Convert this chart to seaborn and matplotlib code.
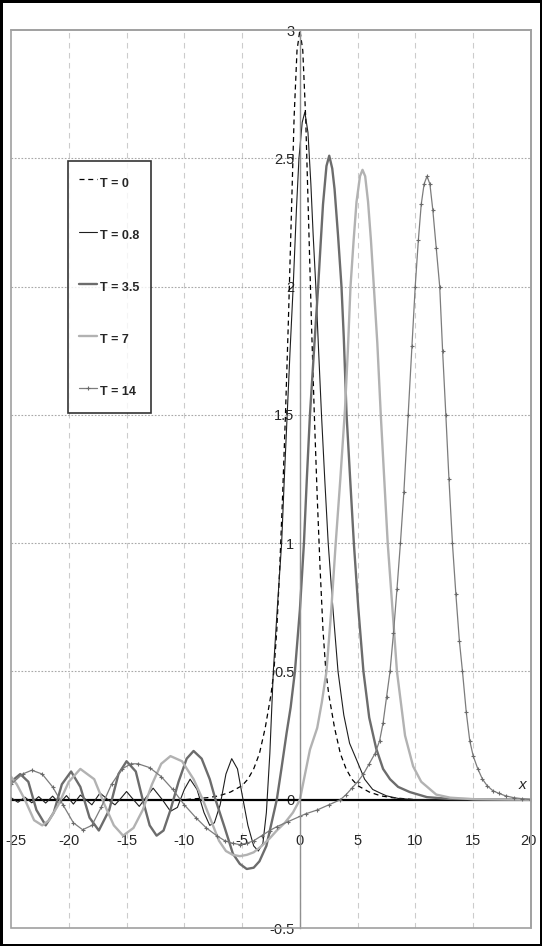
import numpy as np
import pandas as pd
import seaborn as sns
import matplotlib.pyplot as plt
from matplotlib.patches import Rectangle
from matplotlib.transforms import ScaledTranslation

sns.set_style("white")
plt.rcParams['font.family'] = ['Liberation Sans', 'DejaVu Sans']

# T = 0 (dashed)
x_t0 = [-25, -10, -9, -8, -7, -6, -5, -4.5, -4, -3.5, -3, -2.5, -2.25, -2, -1.75, -1.5, -1.25,
        -1, -0.75, -0.5, -0.25, 0, 0.25, 0.5, 0.75, 1, 1.25, 1.5, 1.75, 2, 2.25, 2.5, 3, 3.5,
        4, 4.5, 5, 6, 7, 8, 9, 10, 20]
y_t0 = [0, 0, 0.004, 0.008, 0.015, 0.03, 0.055, 0.08, 0.12, 0.18, 0.28, 0.41, 0.5, 0.66, 0.9, 1.18, 1.5,
        1.86, 2.26, 2.66, 2.92, 3.0, 2.92, 2.66, 2.26, 1.86, 1.5, 1.18, 0.9, 0.66, 0.5, 0.41, 0.28, 0.18,
        0.12, 0.08, 0.055, 0.03, 0.015, 0.008, 0.004, 0, 0]

# T = 0.8 (thin solid)
x_t08 = [-25, -24.4, -23.8, -23.2, -22.6, -22.0, -21.4, -20.8, -20.2, -19.6, -19.0, -18.5, -18.0,
         -17.7, -17.3, -16.6, -16.0, -15.5, -15.0, -14.4, -13.9, -13.3, -12.7, -11.9, -11.2, -10.6,
         -10.0, -9.5, -8.9, -8.3, -7.8, -7.4, -6.9, -6.4, -5.9, -5.4, -5.0, -4.5, -4.0, -3.6, -3.2,
         -2.9, -2.6, -2.3, -1.95, -1.58, -1.35, -1.1, -0.85, -0.58, -0.3, -0.08, 0.2, 0.43, 0.7,
         0.95, 1.15, 1.38, 1.62, 1.87, 2.15, 2.45, 2.85, 3.3, 3.8, 4.3, 4.9, 5.6, 6.3, 7.0, 7.5,
         8.5, 10, 20]
y_t08 = [0.008, -0.01, 0.01, -0.012, 0.012, -0.013, 0.014, -0.015, 0.016, -0.017, 0.018, 0.0, -0.02,
         0.0, 0.026, 0.0, -0.02, 0.005, 0.032, 0.0, -0.026, 0.01, 0.045, 0.0, -0.045, -0.03,
         0.04, 0.08, 0.04, -0.05, -0.1, -0.09, -0.02, 0.1, 0.16, 0.12, 0.02, -0.1, -0.18, -0.2, -0.17,
         -0.05, 0.18, 0.5, 0.75, 1.0, 1.25, 1.5, 1.75, 2.0, 2.3, 2.5, 2.64, 2.68, 2.6,
         2.4, 2.2, 2.0, 1.75, 1.5, 1.25, 1.0, 0.75, 0.5, 0.33, 0.22, 0.156, 0.08, 0.04, 0.025, 0.015,
         0.005, 0, 0]

# T = 3.5 (thick dark grey)
x_t35 = [-25, -24.2, -23.5, -22.8, -22.0, -21.3, -20.6, -19.8, -19.0, -18.2, -17.4, -16.5, -15.7,
         -15.0, -14.2, -13.6, -13.0, -12.4, -11.8, -11.2, -10.5, -9.8, -9.2, -8.5, -7.8, -7.3,
         -6.5, -5.8, -5.2, -4.6, -4.0, -3.5, -2.9, -2.5, -2.0, -1.6, -1.15, -0.8, -0.43, 0.0, 0.35,
         0.6, 0.87, 1.22, 1.58, 1.8, 2.0, 2.3, 2.54, 2.8, 3.0, 3.3, 3.6, 3.8, 4.04, 4.35, 4.67,
         5.05, 5.5, 6.0, 6.6, 7.2, 7.8, 8.5, 9.5, 11, 13, 20]
y_t35 = [0.07, 0.1, 0.07, -0.04, -0.1, -0.05, 0.06, 0.11, 0.05, -0.07, -0.12, -0.04, 0.1,
         0.15, 0.11, 0.0, -0.1, -0.14, -0.12, -0.04, 0.07, 0.16, 0.19, 0.16, 0.08, 0.0,
         -0.11, -0.21, -0.25, -0.27, -0.265, -0.24, -0.18, -0.1, 0.0, 0.12, 0.26, 0.36, 0.5, 0.74, 1.0,
         1.25, 1.5, 1.75, 2.0, 2.17, 2.32, 2.47, 2.51, 2.46, 2.38, 2.2, 2.0, 1.8, 1.5, 1.25, 1.0,
         0.75, 0.5, 0.32, 0.2, 0.12, 0.08, 0.05, 0.03, 0.01, 0.003, 0]

# T = 7 (thick light grey)
x_t7 = [-25, -24.5, -23.8, -23.0, -22.3, -21.7, -20.9, -20.0, -19.0, -17.8, -16.9, -16.1, -15.3,
        -14.4, -13.6, -12.8, -12.0, -11.2, -10.2, -9.2, -8.4, -7.7, -7.0, -6.4, -5.8, -5.2, -4.6,
        -4.0, -3.3, -2.6, -2.0, -1.3, -0.6, 0, 0.4, 0.87, 1.5, 1.9, 2.3, 2.7, 3.1, 3.5, 3.9, 4.15,
        4.38, 4.65, 4.9, 5.2, 5.42, 5.65, 5.9, 6.15, 6.4, 6.7, 7.0, 7.3, 7.6, 8.0, 8.4, 9.1, 9.8,
        10.5, 11.8, 13, 15, 20]
y_t7 = [0.09, 0.06, 0.0, -0.08, -0.1, -0.08, -0.02, 0.07, 0.12, 0.08, -0.02, -0.1, -0.14,
        -0.11, -0.04, 0.06, 0.14, 0.17, 0.15, 0.08, 0.0, -0.08, -0.16, -0.2, -0.215, -0.22, -0.215,
        -0.205, -0.18, -0.15, -0.12, -0.09, -0.05, 0.0, 0.09, 0.195, 0.28, 0.38, 0.5, 0.73, 1.0, 1.25, 1.52,
        1.75, 2.0, 2.18, 2.33, 2.43, 2.455, 2.43, 2.33, 2.18, 2.0, 1.78, 1.5, 1.25, 1.0, 0.75, 0.5, 0.25,
        0.13, 0.07, 0.02, 0.008, 0.002, 0]

# T = 14 (grey with markers)
x_t14 = [-25, -24.0, -23.2, -22.3, -21.4, -20.5, -19.6, -18.8, -18.0, -17.2, -16.3, -15.4, -14.6,
         -14.0, -13.0, -12.0, -11.0, -10.0, -9.0, -8.1, -7.2, -6.5, -5.8, -5.2, -4.6, -4.0, -3.3,
         -2.6, -2.0, -1.0, 0, 0.5, 1.5, 2.5, 3.5, 4.0, 4.5, 5.0, 5.5, 6.0, 6.5, 6.9, 7.2, 7.5, 7.8,
         8.1, 8.4, 8.7, 9.0, 9.37, 9.7, 9.98, 10.25, 10.5, 10.75, 11.0, 11.25, 11.5, 11.8, 12.1,
         12.35, 12.63, 12.9, 13.2, 13.5, 13.8, 14.07, 14.4, 14.7, 15.0, 15.4, 15.8, 16.2, 16.7,
         17.2, 17.8, 18.5, 19.2, 20]
y_t14 = [0.06, 0.1, 0.115, 0.1, 0.05, -0.02, -0.09, -0.117, -0.1, -0.03, 0.06, 0.12, 0.14,
         0.14, 0.125, 0.09, 0.04, -0.02, -0.07, -0.11, -0.14, -0.16, -0.17, -0.175, -0.17, -0.16, -0.14,
         -0.12, -0.105, -0.085, -0.065, -0.055, -0.04, -0.02, 0.0, 0.02, 0.045, 0.07, 0.1, 0.14, 0.18,
         0.23, 0.3, 0.4, 0.5, 0.65, 0.82, 1.0, 1.2, 1.5, 1.77, 2.0, 2.18, 2.32, 2.4, 2.43, 2.4, 2.3,
         2.15, 2.0, 1.75, 1.5, 1.25, 1.0, 0.8, 0.62, 0.5, 0.34, 0.23, 0.17, 0.12, 0.08, 0.055, 0.035,
         0.025, 0.015, 0.008, 0.004, 0]

series = [
    ("T = 0", x_t0, y_t0, dict(color="black", lw=0.9, dashes=(4, 3))),
    ("T = 0.8", x_t08, y_t08, dict(color="#1e1e1e", lw=0.8)),
    ("T = 3.5", x_t35, y_t35, dict(color="#6c6c6c", lw=1.7)),
    ("T = 7", x_t7, y_t7, dict(color="#b2b2b2", lw=1.7)),
    ("T = 14", x_t14, y_t14, dict(color="#7c7c7c", lw=0.9, marker="+", ms=3.5,
                                  mew=0.8, mec="#6a6a6a")),
]

fig = plt.figure(figsize=(5.42, 9.46), dpi=100)
fig.patch.set_edgecolor("black")
fig.patch.set_linewidth(2.5)
ax = fig.add_axes([11 / 542, 1 - 928 / 946, 520 / 542, 898 / 946])

for label, xs, ys, style in series:
    df = pd.DataFrame({"x": xs, "y": ys})
    sns.lineplot(data=df, x="x", y="y", ax=ax, sort=False, label=label, **style)

ax.set_xlim(-25, 20)
ax.set_ylim(-0.5, 3)

# grid
for gx in range(-20, 20, 5):
    ax.axvline(gx, color="#cccccc", lw=0.8, dashes=(5, 4), zorder=0)
for gy in [0.5, 1, 1.5, 2, 2.5]:
    ax.axhline(gy, color="#a8a8a8", lw=0.8, dashes=(1.5, 1.5), zorder=0)

ax.axhline(0, color="black", lw=1.6, zorder=1)

for s in ["top", "right"]:
    ax.spines[s].set_color("#a0a0a0")
    ax.spines[s].set_linewidth(1.2)
ax.spines["left"].set_position(("data", 0))
ax.spines["left"].set_color("#909090")
ax.spines["left"].set_linewidth(1.0)
ax.spines["bottom"].set_position(("data", 0))
ax.spines["bottom"].set_visible(False)
ax.add_patch(Rectangle((0, 0), 1, 1, transform=ax.transAxes, fill=False,
                       edgecolor="#a0a0a0", lw=1.2, zorder=5, clip_on=False))

ax.set_xticks(range(-25, 21, 5))
ax.set_xticklabels([str(v) for v in range(-25, 21, 5)])
ax.set_yticks([-0.5, 0, 0.5, 1, 1.5, 2, 2.5, 3])
ax.set_yticklabels(["-0.5", "0", "0.5", "1", "1.5", "2", "2.5", "3"])
ax.tick_params(axis="x", length=0, pad=25, labelsize=10.5)
ax.tick_params(axis="y", length=2, pad=2, labelsize=10.5, color="black")
ax.set_xlabel("")
ax.set_ylabel("")
xl = ax.get_xticklabels()
xl[0].set_transform(xl[0].get_transform() + ScaledTranslation(0.05, 0, fig.dpi_scale_trans))
xl[-1].set_transform(xl[-1].get_transform() + ScaledTranslation(-0.03, 0, fig.dpi_scale_trans))
ax.text(19.6, 0.03, "x", fontsize=11, style="italic", ha="right", va="bottom")

leg = ax.legend(loc="upper left", bbox_to_anchor=(57 / 520, 1 - 131 / 898), fontsize=9,
                labelspacing=2.5, handlelength=1.4, handleheight=2.2, handletextpad=0.3,
                borderpad=0.9, borderaxespad=0, frameon=True, fancybox=False,
                edgecolor="black", numpoints=1)
leg.get_frame().set_linewidth(1.2)
for t in leg.get_texts():
    t.set_fontweight("bold")

fig.savefig("out.png", dpi=100, edgecolor=fig.get_edgecolor())
